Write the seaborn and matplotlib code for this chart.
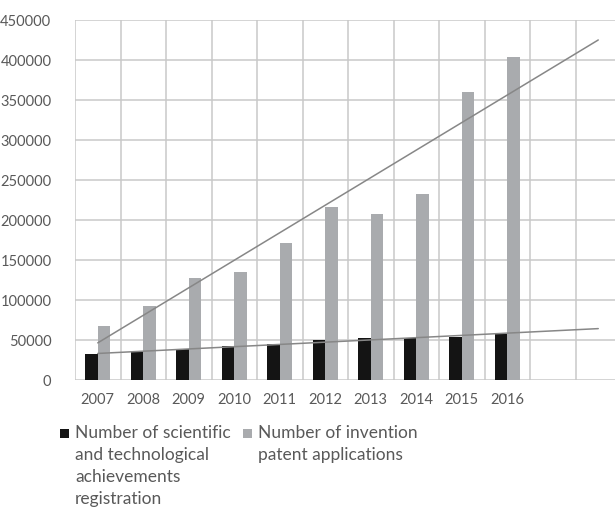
import numpy as np
import pandas as pd
import matplotlib
matplotlib.use("Agg")
import matplotlib.pyplot as plt
from matplotlib.patches import Rectangle
import seaborn as sns

years = ["2007", "2008", "2009", "2010", "2011", "2012", "2013", "2014", "2015", "2016"]
achievements = [32500, 34600, 38300, 42500, 44600, 50000, 52100, 52900, 54200, 57100]
patents = [67900, 92500, 127100, 134600, 171250, 216700, 207500, 232500, 359600, 403300]
series_names = ["Number of scientific\nand technological\nachievements\nregistration",
                "Number of invention\npatent applications"]
yticks = [0, 50000, 100000, 150000, 200000, 250000, 300000, 350000, 400000, 450000]
extra_cats = ["f1", "f2"]  # forecast periods of the trendlines (empty categories)

df = pd.DataFrame({
    "year": years * 2,
    "value": achievements + patents,
    "series": [series_names[0]] * len(years) + [series_names[1]] * len(years),
})

sns.set_style("white")
plt.rcParams["font.family"] = ["Lato", "DejaVu Sans"]
text_color = "#595959"
grid_color = "#c9c9c9"
colors = ["#141414", "#a9abae"]

fig = plt.figure(figsize=(6.15, 5.07), dpi=100)
W, H = 615, 507
ax = fig.add_axes([75 / W, (H - 380) / H, 546 / W, 360 / H])

sns.barplot(data=df, x="year", y="value", hue="series", order=years + extra_cats,
            palette=colors, width=0.56, saturation=1, ax=ax, legend=False,
            linewidth=0)

# linear trendlines with 2 periods forward
xs = np.arange(len(years))
for vals in (achievements, patents):
    k, b = np.polyfit(xs, vals, 1)
    xe = np.array([0, len(years) + 1])
    ax.plot(xe, k * xe + b, color="#878787", lw=1.1, zorder=5)

ax.set_xlim(-0.5, len(years) + 1.5)
ax.set_ylim(0, 450000)
ax.set_yticks(yticks)
ax.set_yticklabels([str(v) for v in yticks])
ax.set_xticks(np.arange(len(years) + 2))
ax.set_xticklabels(years + ["", ""])
ax.set_xticks(np.arange(-0.5, len(years) + 2, 1.0), minor=True)
ax.set_xlabel("")
ax.set_ylabel("")
ax.grid(False)
ax.yaxis.grid(True, color=grid_color, lw=1.1)
ax.xaxis.grid(True, which="minor", color=grid_color, lw=1.1)
ax.set_axisbelow(True)
for s in ax.spines.values():
    s.set_visible(False)
ax.tick_params(axis="both", which="both", length=0, colors=text_color, labelsize=10.5)
ax.tick_params(axis="y", pad=17)
ax.tick_params(axis="x", pad=9)

# legend drawn below the plot, marker aligned to first line
fs = 12.5
lh = 22
entries = [(60, series_names[0], colors[0]), (243, series_names[1], colors[1])]
for x0, label, c in entries:
    fig.patches.append(Rectangle((x0 / W, 1 - 438 / H), 9 / W, 9 / H, transform=fig.transFigure,
                                 facecolor=c, edgecolor="none"))
    for i, line in enumerate(label.split("\n")):
        fig.text((x0 + 15) / W, 1 - (433 + i * lh) / H, line, color=text_color, fontsize=fs,
                 va="center", ha="left")

fig.savefig("out.png", dpi=100)
